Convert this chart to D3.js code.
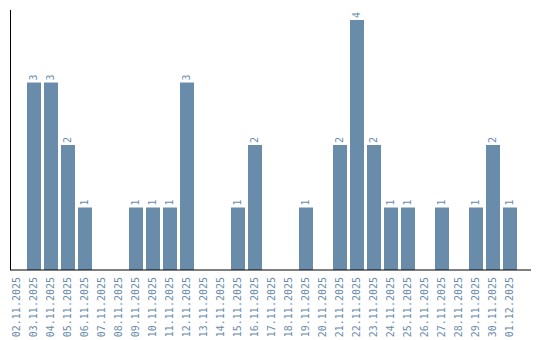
<!DOCTYPE html>
<html>
<head>
<meta charset="utf-8">
<script src="https://cdn.jsdelivr.net/npm/d3@7"></script>
<style>
  body { margin: 0; background: #fff; }
  svg { display: block; }
</style>
</head>
<body>
<div id="chart"></div>
<script>
// daily counts
const dates = ['02.11.2025', '03.11.2025', '04.11.2025', '05.11.2025', '06.11.2025', '07.11.2025',
    '08.11.2025', '09.11.2025', '10.11.2025', '11.11.2025', '12.11.2025', '13.11.2025',
    '14.11.2025', '15.11.2025', '16.11.2025', '17.11.2025', '18.11.2025', '19.11.2025',
    '20.11.2025', '21.11.2025', '22.11.2025', '23.11.2025', '24.11.2025', '25.11.2025',
    '26.11.2025', '27.11.2025', '28.11.2025', '29.11.2025', '30.11.2025', '01.12.2025']
const counts = [0, 3, 3, 2, 1, 0, 0, 1, 1, 1, 3, 0, 0, 1, 2, 0, 0, 1, 0, 2, 4, 2, 1, 1, 0, 1, 0, 1, 2, 1]

const data = dates.map((d, i) => ({ date: d, count: counts[i] }))

const [width, height] = [540, 340]
const color = '#6a8cab'
const font = '"DejaVu Sans Mono", monospace'

const svg = d3.select('#chart').append('svg')
    .attr('width', width)
    .attr('height', height)

const x = d3.scaleBand()
    .domain(dates)
    .range([10, 530])
    .paddingInner(3 / 17)
    .paddingOuter(0.3824)
    .align(0)

const y = d3.scaleLinear()
    .domain([0, 4])
    .range([270, 20])

svg.selectAll('rect.bar')
    .data(data)
    .join('rect')
    .attr('class', 'bar')
    .attr('x', d => x(d.date))
    .attr('y', d => y(d.count))
    .attr('width', x.bandwidth())
    .attr('height', d => y(0) - y(d.count))
    .attr('fill', color)

// value labels, rotated above each bar
svg.selectAll('text.val')
    .data(data.filter(d => d.count > 0))
    .join('text')
    .attr('class', 'val')
    .attr('transform', d => `translate(${x(d.date) + x.bandwidth() / 2 + 3.5}, ${y(d.count) - 2}) rotate(-90)`)
    .attr('font-family', font)
    .attr('font-size', 10)
    .attr('fill', color)
    .text(d => d.count)

// axes
const xAxis = svg.append('g')
    .attr('transform', `translate(0, ${y(0)})`)
    .call(d3.axisBottom(x).tickSize(0).tickPadding(0))
xAxis.select('.domain').remove()
xAxis.append('line')
    .attr('x1', 10).attr('x2', 531)
    .attr('stroke', '#000')
xAxis.selectAll('.tick text')
    .attr('font-family', font)
    .attr('font-size', 10)
    .attr('fill', color)
    .attr('text-anchor', 'end')
    .attr('dy', '0.35em')
    .attr('transform', 'translate(0, 7) rotate(-90)')
    .attr('x', 0)
    .attr('y', 0)

svg.append('line')
    .attr('x1', 10.5).attr('x2', 10.5)
    .attr('y1', 10).attr('y2', 270)
    .attr('stroke', '#000')
</script>
</body>
</html>
